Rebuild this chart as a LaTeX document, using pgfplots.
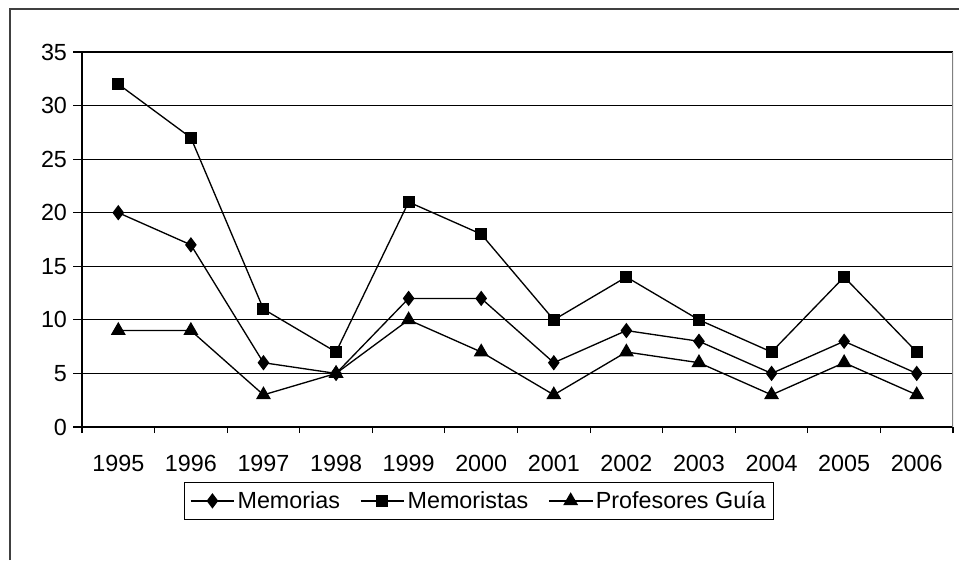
\documentclass[border=0pt]{standalone}
\usepackage{pgfplots}
\pgfplotsset{compat=1.18}
\usepackage{fontspec}
\setmainfont{Liberation Sans}
\begin{document}
\begin{tikzpicture}
\useasboundingbox (0,0) rectangle (719.25pt,420pt);
\fill[white] (0,0) rectangle (719.25pt,420pt);
\draw[black!75, line width=1.5pt] (7.5pt,0) -- (7.5pt,413.25pt) -- (719.25pt,413.25pt);
\begin{axis}[
  at={(61.5pt,99.75pt)}, anchor=south west,
  scale only axis, width=653.25pt, height=281.25pt,
  xmin=-0.5, xmax=11.5, ymin=0, ymax=35,
  ytick={0,5,...,35},
  xtick={0,...,11},
  xticklabels={1995,1996,1997,1998,1999,2000,2001,2002,2003,2004,2005,2006},
  minor xtick={-0.5,0.5,...,11.5},
  axis x line*=bottom, axis y line*=left,
  axis line style={black, line width=1pt, -},
  ymajorgrids, grid style={black, line width=0.8pt},
  tick align=outside,
  major tick length=6.75pt, minor tick length=4.5pt,
  tick style={black, line width=0.8pt},
  major x tick style={draw=none},
  /pgf/number format/assume math mode=true,
  tick label style={font=\fontsize{17.5}{20}\selectfont},
  yticklabel style={xshift=-1pt},
  xticklabel style={yshift=-11pt},
  legend columns=3,
  legend style={at={(0.456,-0.197)}, anchor=center, draw=black, line width=0.8pt,
    font=\fontsize{17.5}{20}\selectfont, inner xsep=4pt, inner ysep=4.5pt,
    /tikz/every even column/.append style={column sep=13pt}},
  legend image code/.code={\draw[mark repeat=2,mark phase=2] plot coordinates {(0cm,0cm) (0.575cm,0cm) (1.15cm,0cm)};},
  every axis plot/.append style={black, line width=1pt},
]
\addplot[mark=diamond*, mark size=5pt, mark options={solid}] coordinates {
(0,20) (1,17) (2,6) (3,5) (4,12) (5,12) (6,6) (7,9) (8,8) (9,5) (10,8) (11,5)};
\addlegendentry{Memorias}
\addplot[mark=square*, mark size=4pt] coordinates {
(0,32) (1,27) (2,11) (3,7) (4,21) (5,18) (6,10) (7,14) (8,10) (9,7) (10,14) (11,7)};
\addlegendentry{Memoristas}
\addplot[mark=triangle*, mark size=5.5pt] coordinates {
(0,9) (1,9) (2,3) (3,5) (4,10) (5,7) (6,3) (7,7) (8,6) (9,3) (10,6) (11,3)};
\addlegendentry{Profesores Guía}
\draw[gray, line width=1pt] (axis cs:11.5,0) -- (axis cs:11.5,35);
\end{axis}
\end{tikzpicture}
\end{document}
